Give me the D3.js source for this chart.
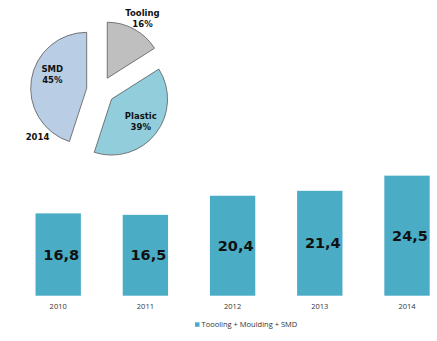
<!DOCTYPE html>
<html><head><meta charset="utf-8">
<script src="https://cdn.jsdelivr.net/npm/d3@7"></script>
<style>body{margin:0;background:#fff}svg{display:block}</style>
</head><body><svg id="c" width="437" height="341"></svg>
<script>
const years = ["2010","2011","2012","2013","2014"];
const totals = [16.8, 16.5, 20.4, 21.4, 24.5];
const totalLabels = ["16,8","16,5","20,4","21,4","24,5"];
const seriesName = "Toooling + Moulding + SMD";
const pieYear = "2014";
const pieLabels = ["Tooling","Plastic","SMD"];
const pieValues = [16, 39, 45];

const svg = d3.select("#c");

// ---- Bar chart ----
const x = d3.scaleBand().domain(years).range([14.6, 450.6]).paddingInner(0.48).paddingOuter(0.24);
const y = d3.scaleLinear().domain([0, 25]).range([295.7, 173.2]);

svg.append("g").selectAll("rect").data(totals).join("rect")
  .attr("x", (d,i) => x(years[i]))
  .attr("width", x.bandwidth())
  .attr("y", d => y(d))
  .attr("height", d => y(0) - y(d))
  .attr("fill", "#4bacc6");

svg.append("g").selectAll("text").data(totals).join("text")
  .attr("x", (d,i) => x(years[i]) + x.bandwidth()/2 + 3)
  .attr("y", d => (y(d) + y(0))/2)
  .attr("dy", "0.36em")
  .attr("text-anchor", "middle")
  .attr("font-family", "DejaVu Sans")
  .attr("font-weight", "bold")
  .attr("font-size", 14.5)
  .attr("fill", "#111")
  .text((d,i) => totalLabels[i]);

const xAxis = svg.append("g").attr("transform", `translate(0,${y(0)})`)
  .call(d3.axisBottom(x).tickSize(0).tickPadding(8));
xAxis.select(".domain").remove();
xAxis.selectAll("text").attr("font-family", "Open Sans").attr("font-size", 7.5).attr("fill", "#333");

// legend
const lg = svg.append("g").attr("transform", "translate(195,322.3)");
lg.append("rect").attr("width", 4.5).attr("height", 4.5).attr("fill", "#4bacc6");
lg.append("text").attr("x", 6.5).attr("y", 2.3).attr("dy", "0.35em")
  .attr("font-family", "Open Sans").attr("font-size", 7.5).attr("fill", "#333").text(seriesName);

// ---- Pie chart ----
const pieColors = d3.scaleOrdinal().domain(pieLabels).range(["#bfbfbf", "#92cddc", "#b9cde5"]);
const cx = 100.5, cy = 90.5, r = 56, explode = 14;
const pie = d3.pie().sort(null).value(d => d)(pieValues);
const arc = d3.arc().innerRadius(0).outerRadius(r);
// label placement factors (radius fraction, angle tweak) for each slice
const labelPos = [{f:1.24, da:0.03}, {f:0.66, da:0}, {f:0.66, da:0.22}];

const pg = svg.append("g").attr("transform", `translate(${cx},${cy})`);
pie.forEach((s, i) => {
  const mid = (s.startAngle + s.endAngle)/2;
  const ox = explode*Math.sin(mid), oy = -explode*Math.cos(mid);
  const g = pg.append("g").attr("transform", `translate(${ox},${oy})`);
  g.append("path").attr("d", arc(s)).attr("fill", pieColors(pieLabels[i]))
    .attr("stroke", "#595959").attr("stroke-width", 0.8);
  const a = mid + labelPos[i].da, rr = r*labelPos[i].f;
  const t = g.append("text")
    .attr("transform", `translate(${rr*Math.sin(a)},${-rr*Math.cos(a)})`)
    .attr("text-anchor", "middle")
    .attr("font-family", "DejaVu Sans").attr("font-weight", "bold")
    .attr("font-size", 8.5).attr("fill", "#111");
  t.append("tspan").attr("x", 0).attr("y", -5.5).attr("dy", "0.35em").text(pieLabels[i]);
  t.append("tspan").attr("x", 0).attr("y", 5.5).attr("dy", "0.35em").text(pieValues[i] + "%");
});

svg.append("text").attr("x", 37.5).attr("y", 136.7).attr("dy", "0.35em")
  .attr("text-anchor", "middle").attr("font-family", "DejaVu Sans").attr("font-weight", "bold")
  .attr("font-size", 8.5).attr("fill", "#111").text(pieYear);
</script></body></html>
